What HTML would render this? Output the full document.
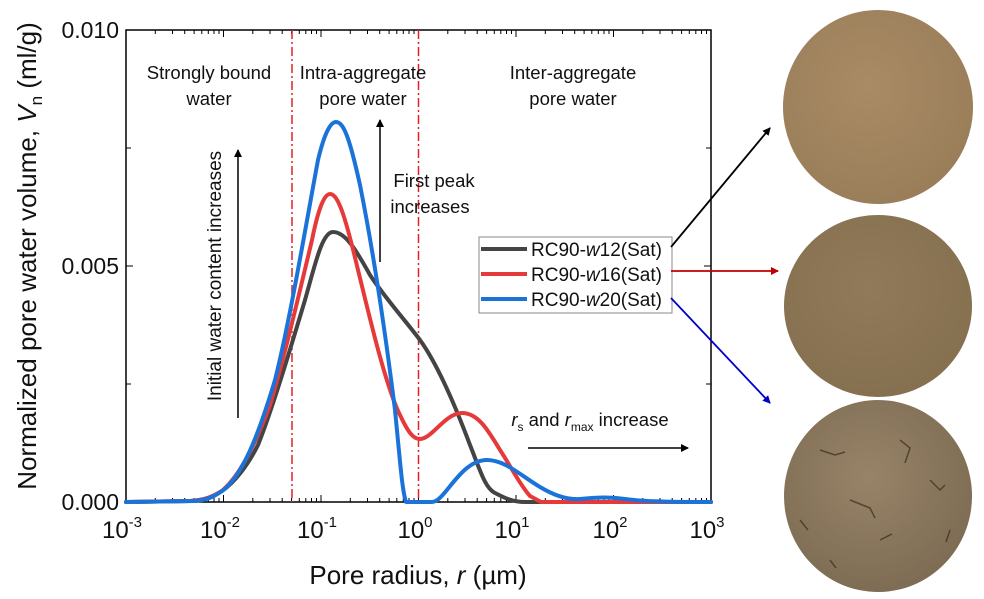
<!DOCTYPE html>
<html><head><meta charset="utf-8"><style>
body{margin:0;background:#fff;}
svg{display:block;font-family:"Liberation Sans",sans-serif;}
</style></head><body>
<svg width="984" height="599" viewBox="0 0 984 599" xmlns="http://www.w3.org/2000/svg">
<defs>
<radialGradient id="g1" cx="0.45" cy="0.4" r="0.6"><stop offset="0" stop-color="#a98c66"/><stop offset="1" stop-color="#9a7e59"/></radialGradient>
<radialGradient id="g2" cx="0.45" cy="0.4" r="0.6"><stop offset="0" stop-color="#917a59"/><stop offset="1" stop-color="#85704f"/></radialGradient>
<radialGradient id="g3" cx="0.45" cy="0.4" r="0.6"><stop offset="0" stop-color="#978468"/><stop offset="1" stop-color="#7e6c54"/></radialGradient>
<marker id="ak" markerWidth="8" markerHeight="8" refX="7" refY="4" orient="auto" markerUnits="userSpaceOnUse"><path d="M0,0 L8,4 L0,8 z" fill="#000"/></marker>
<marker id="ar" markerWidth="8" markerHeight="8" refX="7" refY="4" orient="auto" markerUnits="userSpaceOnUse"><path d="M0,0 L8,4 L0,8 z" fill="#c00000"/></marker>
<marker id="ab" markerWidth="8" markerHeight="8" refX="7" refY="4" orient="auto" markerUnits="userSpaceOnUse"><path d="M0,0 L8,4 L0,8 z" fill="#0000cc"/></marker>
</defs>

<!-- photos -->
<ellipse cx="878" cy="107" rx="95" ry="97" fill="url(#g1)"/>
<ellipse cx="878" cy="306" rx="94" ry="91" fill="url(#g2)"/>
<ellipse cx="878" cy="496" rx="94" ry="96" fill="url(#g3)"/>
<g stroke="#3a2c1c" stroke-width="1.5" fill="none" opacity="0.7">
<path d="M820,450 l15,5 l10,-3"/><path d="M900,440 l10,8 l-5,15"/><path d="M850,500 l20,8 l5,10"/><path d="M800,520 l8,10"/><path d="M930,480 l10,10 l5,-5"/><path d="M880,540 l12,-6"/><path d="M830,560 l6,8"/><path d="M950,530 l-4,12"/>
</g>

<!-- frame -->
<rect x="126" y="30" width="585" height="472" fill="none" stroke="#000" stroke-width="1.5"/>
<g stroke="#000" stroke-width="1">
<path d="M126,502v-7M223.5,502v-7M321,502v-7M418.5,502v-7M516,502v-7M613.5,502v-7M711,502v-7"/>
<path d="M126,30v7M223.5,30v7M321,30v7M418.5,30v7M516,30v7M613.5,30v7"/>
<path d="M126,266h7M126,148h5M126,384h5M711,266h-7M711,148h-5M711,384h-5"/>
<path d="M155.3,502v-4M172.5,502v-4M184.7,502v-4M194.1,502v-4M201.8,502v-4M208.3,502v-4M214,502v-4M219,502v-4
M252.8,502v-4M270,502v-4M282.2,502v-4M291.6,502v-4M299.3,502v-4M305.8,502v-4M311.5,502v-4M316.5,502v-4
M350.3,502v-4M367.5,502v-4M379.7,502v-4M389.1,502v-4M396.8,502v-4M403.3,502v-4M409,502v-4M414,502v-4
M447.8,502v-4M465,502v-4M477.2,502v-4M486.6,502v-4M494.3,502v-4M500.8,502v-4M506.5,502v-4M511.5,502v-4
M545.3,502v-4M562.5,502v-4M574.7,502v-4M584.1,502v-4M591.8,502v-4M598.3,502v-4M604,502v-4M609,502v-4
M642.8,502v-4M660,502v-4M672.2,502v-4M681.6,502v-4M689.3,502v-4M695.8,502v-4M701.5,502v-4M706.5,502v-4"/>
<path d="M155.3,30v4M172.5,30v4M184.7,30v4M194.1,30v4M201.8,30v4M208.3,30v4M214,30v4M219,30v4
M252.8,30v4M270,30v4M282.2,30v4M291.6,30v4M299.3,30v4M305.8,30v4M311.5,30v4M316.5,30v4
M350.3,30v4M367.5,30v4M379.7,30v4M389.1,30v4M396.8,30v4M403.3,30v4M409,30v4M414,30v4
M447.8,30v4M465,30v4M477.2,30v4M486.6,30v4M494.3,30v4M500.8,30v4M506.5,30v4M511.5,30v4
M545.3,30v4M562.5,30v4M574.7,30v4M584.1,30v4M591.8,30v4M598.3,30v4M604,30v4M609,30v4
M642.8,30v4M660,30v4M672.2,30v4M681.6,30v4M689.3,30v4M695.8,30v4M701.5,30v4M706.5,30v4"/>
</g>

<g stroke="#e0202a" stroke-width="1.5" stroke-dasharray="9,3,2,3">
<line x1="292" y1="30" x2="292" y2="502"/><line x1="418.5" y1="30" x2="418.5" y2="502"/>
</g>

<g fill="none" stroke-width="4" stroke-linejoin="round" stroke-linecap="round">
<path stroke="#444" d="M126,502 L190,501 C205,500 212,497 222,491 C235,482 248,465 258,445 C272,410 290,350 305,300 C315,265 322,232 333,232 C345,232 355,248 370,275 C385,298 405,320 420,340 C438,365 455,405 470,445 C480,470 485,488 495,493 C505,498 512,502 525,502 L711,502"/>
<path stroke="#e63a3a" d="M126,502 L190,501 C205,500 213,497 223,490 C240,475 255,445 270,405 C285,355 300,290 312,240 C318,210 324,194 330,194 C338,194 345,215 358,270 C368,310 385,385 400,415 C408,432 413,439 420,439 C432,439 445,413 462,413 C478,413 488,430 500,450 C510,465 520,485 530,496 L541,502 L711,502"/>
<path stroke="#1a73d9" d="M126,502 L195,501 C208,500 216,496 226,488 C245,470 260,430 275,380 C290,320 305,230 318,160 C324,135 330,122 336,122 C344,122 350,140 360,185 C372,245 385,330 395,410 C400,460 402,490 406,502 L432,502 C445,502 460,460 487,460 C505,460 520,475 540,487 C555,496 568,500 580,499 C600,497 610,497 625,499 C640,501 660,502 711,502"/>
</g>

<g font-size="23" fill="#111" text-anchor="end">
<text x="119" y="38">0.010</text><text x="119" y="274">0.005</text><text x="119" y="510">0.000</text>
</g>
<g font-size="24" fill="#111" text-anchor="middle">
<text x="122" y="538">10<tspan font-size="15" dy="-11">-3</tspan></text>
<text x="220" y="538">10<tspan font-size="15" dy="-11">-2</tspan></text>
<text x="317" y="538">10<tspan font-size="15" dy="-11">-1</tspan></text>
<text x="415" y="538">10<tspan font-size="15" dy="-11">0</tspan></text>
<text x="512" y="538">10<tspan font-size="15" dy="-11">1</tspan></text>
<text x="610" y="538">10<tspan font-size="15" dy="-11">2</tspan></text>
<text x="707" y="538">10<tspan font-size="15" dy="-11">3</tspan></text>
</g>
<text x="418" y="584" font-size="26" text-anchor="middle" fill="#111">Pore radius, <tspan font-style="italic">r</tspan> (µm)</text>
<text transform="translate(36,256) rotate(-90)" font-size="26" text-anchor="middle" fill="#111">Normalized pore water volume, <tspan font-style="italic">V</tspan><tspan font-size="17" dy="6">n</tspan><tspan dy="-6"> (ml/g)</tspan></text>

<g font-size="18.5" fill="#111" text-anchor="middle">
<text x="209" y="79">Strongly bound</text><text x="209" y="105">water</text>
<text x="363" y="79">Intra-aggregate</text><text x="363" y="105">pore water</text>
<text x="573" y="79">Inter-aggregate</text><text x="573" y="105">pore water</text>
<text x="434" y="187">First peak</text><text x="430" y="213">increases</text>
<text x="590" y="426"><tspan font-style="italic">r</tspan><tspan font-size="12" dy="5">s</tspan><tspan dy="-5"> and </tspan><tspan font-style="italic">r</tspan><tspan font-size="12" dy="5">max</tspan><tspan dy="-5"> increase</tspan></text>
</g>
<text transform="translate(221,276) rotate(-90)" font-size="19" text-anchor="middle" fill="#111">Initial water content increases</text>
<g stroke="#000" stroke-width="1.5">
<line x1="238" y1="418" x2="238" y2="150" marker-end="url(#ak)"/>
<line x1="380" y1="262" x2="380" y2="120" marker-end="url(#ak)"/>
<line x1="528" y1="448" x2="688" y2="448" marker-end="url(#ak)"/>
</g>

<rect x="479" y="237" width="193" height="76" fill="#fff" stroke="#888" stroke-width="1"/>
<g stroke-width="4">
<line x1="481" y1="249" x2="527" y2="249" stroke="#444"/>
<line x1="481" y1="274" x2="527" y2="274" stroke="#e63a3a"/>
<line x1="481" y1="299" x2="527" y2="299" stroke="#1a73d9"/>
</g>
<g font-size="19" fill="#111">
<text x="531" y="256">RC90-<tspan font-style="italic">w</tspan>12(Sat)</text>
<text x="531" y="281">RC90-<tspan font-style="italic">w</tspan>16(Sat)</text>
<text x="531" y="306">RC90-<tspan font-style="italic">w</tspan>20(Sat)</text>
</g>
<line x1="671" y1="247" x2="770" y2="128" stroke="#000" stroke-width="1.8" marker-end="url(#ak)"/>
<line x1="671" y1="271" x2="778" y2="271" stroke="#c00000" stroke-width="1.8" marker-end="url(#ar)"/>
<line x1="671" y1="298" x2="770" y2="403" stroke="#0000cc" stroke-width="1.8" marker-end="url(#ab)"/>
</svg>
</body></html>
